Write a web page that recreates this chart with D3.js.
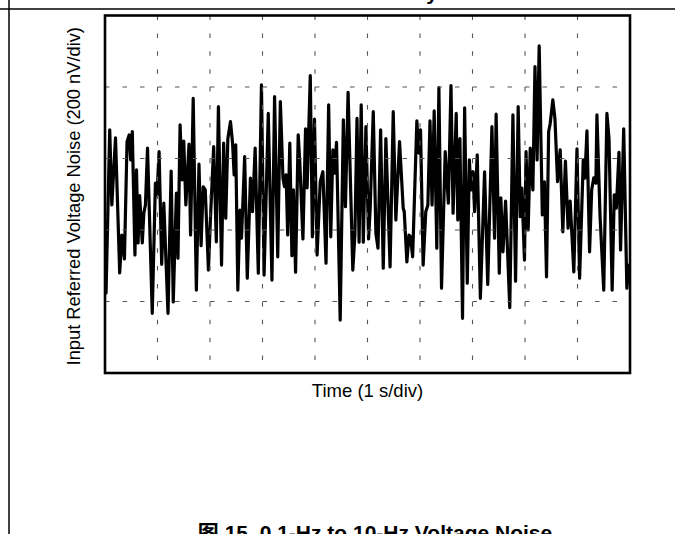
<!DOCTYPE html>
<html>
<head>
<meta charset="utf-8">
<script src="https://cdn.jsdelivr.net/npm/d3@7"></script>
<style>
  html, body { margin: 0; padding: 0; background: #fff; }
  svg { display: block; }
  text { font-family: "Liberation Sans", Arial, Helvetica, sans-serif; fill: #000; }
</style>
</head>
<body>
<svg id="chart" width="675" height="534"></svg>
<script>
// Noise trace: sample time (s) and input-referred noise (nV)
const times = [
  0.02, 0.09, 0.13, 0.20, 0.28, 0.32, 0.37, 0.42, 0.46, 0.49, 0.52, 0.57, 0.60, 0.63, 0.66, 0.71,
  0.74, 0.77, 0.81, 0.90, 0.96, 0.99, 1.03, 1.08, 1.12, 1.20, 1.26, 1.30, 1.36, 1.39, 1.43, 1.47,
  1.50, 1.54, 1.60, 1.63, 1.68, 1.74, 1.79, 1.83, 1.87, 1.91, 1.97, 2.01, 2.07, 2.12, 2.16, 2.22,
  2.26, 2.30, 2.34, 2.39, 2.43, 2.46, 2.49, 2.53, 2.57, 2.60, 2.66, 2.71, 2.77, 2.81, 2.86, 2.92,
  2.98, 3.03, 3.11, 3.18, 3.23, 3.29, 3.34, 3.39, 3.42, 3.45, 3.48, 3.52, 3.56, 3.59, 3.63, 3.68,
  3.71, 3.77, 3.82, 3.85, 3.91, 3.95, 3.99, 4.04, 4.10, 4.15, 4.21, 4.26, 4.30, 4.34, 4.37, 4.41,
  4.48, 4.54, 4.58, 4.63, 4.72, 4.76, 4.80, 4.84, 4.88, 4.92, 4.97, 5.02, 5.05, 5.11, 5.16, 5.20,
  5.25, 5.30, 5.35, 5.43, 5.49, 5.54, 5.61, 5.64, 5.68, 5.70, 5.75, 5.79, 5.82, 5.86, 5.94, 5.98,
  6.01, 6.06, 6.11, 6.15, 6.19, 6.23, 6.27, 6.32, 6.36, 6.41, 6.48, 6.54, 6.59, 6.63, 6.69, 6.72,
  6.76, 6.81, 6.85, 6.90, 6.94, 6.97, 7.01, 7.04, 7.09, 7.15, 7.23, 7.29, 7.37, 7.42, 7.45, 7.51,
  7.54, 7.58, 7.63, 7.71, 7.77, 7.82, 7.87, 7.91, 7.94, 7.99, 8.02, 8.06, 8.10, 8.15, 8.19, 8.23,
  8.27, 8.33, 8.37, 8.41, 8.45, 8.48, 8.53, 8.57, 8.62, 8.67, 8.72, 8.77, 8.82, 8.86, 8.93, 8.99,
  9.04, 9.11, 9.14, 9.18, 9.23, 9.27, 9.31, 9.35, 9.37, 9.43, 9.50, 9.56, 9.60, 9.66, 9.70, 9.74,
  9.79, 9.82, 9.88, 9.94, 9.98
];
const noise = [
  -276, 180, -30, 158, -220, -114, -181, 147, 166, 96, 175, -170, 68, -136, -4, -136,
  -52, -30, 129, -333, 31, -2, 119, -196, -25, -333, 65, -301, 3, -179, 194, 40,
  149, -30, 140, -114, 268, -268, 84, -144, 21, 12, -212, -63, 133, -133, 245, -198,
  143, -67, 155, 203, 143, 54, 138, -268, -44, -123, 105, -235, 45, -49, 129, -221,
  306, -226, 226, -240, 273, -175, 259, 45, 21, 54, -114, 143, -172, 12, -218, 166,
  91, -125, 183, 18, 332, -119, 210, -170, 35, 63, -193, 250, -119, 124, 59, 145,
  -352, 208, -35, 285, -212, -114, 212, -134, 250, -134, 189, -125, -44, 231, -109, -151,
  180, -207, 156, -203, 231, -72, 147, 68, -39, -49, -189, -114, -119, -175, 205, 115,
  180, -198, -49, -30, 205, -30, 233, -151, 298, -263, 119, -25, 304, -53, 226, -72,
  156, -347, 242, -249, 96, 12, 63, -49, 110, -291, 63, -252, 189, -123, 224, -221,
  -10, -161, -19, -317, 222, -243, 245, -63, 17, -184, 119, -100, 129, 12, 357, 96,
  415, -58, 35, -231, 175, 198, 264, 212, 35, 124, -105, 93, -95, -19, -217, 127,
  -235, 96, 45, 177, -161, 12, 46, 31, 222, -63, -268, 226, 156, -268, -2, -39,
  117, -156, 183, -263, -198
];

// Axis divisions: 1 s/div over 10 s, 200 nV/div over 5 divisions
const timeDomain = [0, 10];
const noiseDomain = [-500, 500];
const timeGrid = d3.range(1, 10);
const noiseGrid = [-300, -100, 100, 300];

const xLabel = "Time (1 s/div)";
const yLabel = "Input Referred Voltage Noise (200 nV/div)";
const caption = "图 15. 0.1-Hz to 10-Hz Voltage Noise";

const svg = d3.select("#chart");
const box = { left: 105, right: 630, top: 15.5, bottom: 373 };

const x = d3.scaleLinear().domain(timeDomain).range([box.left, box.right]);
const y = d3.scaleLinear().domain(noiseDomain).range([box.bottom, box.top]);

// page rules
svg.append("line").attr("x1", 0).attr("x2", 675).attr("y1", 9).attr("y2", 9)
  .attr("stroke", "#000").attr("stroke-width", 1.5);
svg.append("line").attr("x1", 9).attr("x2", 9).attr("y1", 0).attr("y2", 534)
  .attr("stroke", "#000").attr("stroke-width", 1.5);

// tail of the preceding caption line
svg.append("text").attr("x", 432).attr("y", 0)
  .attr("text-anchor", "middle")
  .style("font-size", "21px").style("font-weight", "bold")
  .text("y");

// noise trace
const line = d3.line()
  .x((d, i) => x(times[i]))
  .y(d => y(d));

svg.append("path")
  .datum(noise)
  .attr("fill", "none")
  .attr("stroke", "#000")
  .attr("stroke-width", 3.2)
  .attr("stroke-linejoin", "round")
  .attr("stroke-linecap", "round")
  .attr("d", line);

// dashed grid, drawn over the trace
const grid = svg.append("g").attr("stroke", "#555").attr("stroke-width", 1.1);
grid.selectAll("line.v").data(timeGrid).join("line")
  .attr("class", "v")
  .attr("x1", d => x(d)).attr("x2", d => x(d))
  .attr("y1", box.top).attr("y2", box.bottom)
  .attr("stroke-dasharray", "4.5,13.4");
grid.selectAll("line.h").data(noiseGrid).join("line")
  .attr("class", "h")
  .attr("x1", box.left).attr("x2", box.right)
  .attr("y1", d => y(d)).attr("y2", d => y(d))
  .attr("stroke-dasharray", "4.5,13");

// plot frame
svg.append("rect")
  .attr("x", box.left).attr("y", box.top)
  .attr("width", box.right - box.left).attr("height", box.bottom - box.top)
  .attr("fill", "none").attr("stroke", "#000").attr("stroke-width", 2.6);

// axis titles
svg.append("text")
  .attr("x", (box.left + box.right) / 2).attr("y", 397)
  .attr("text-anchor", "middle")
  .style("font-size", "18.5px")
  .text(xLabel);

svg.append("text")
  .attr("transform", `translate(80, ${(box.top + box.bottom) / 2 + 2}) rotate(-90)`)
  .attr("text-anchor", "middle")
  .style("font-size", "18.3px")
  .text(yLabel);

// figure caption
svg.append("text")
  .attr("x", 375).attr("y", 540)
  .attr("text-anchor", "middle")
  .style("font-size", "21px").style("font-weight", "bold")
  .style("font-family", "'Liberation Sans', Arial, 'Noto Sans CJK SC', sans-serif")
  .text(caption);
</script>
</body>
</html>
